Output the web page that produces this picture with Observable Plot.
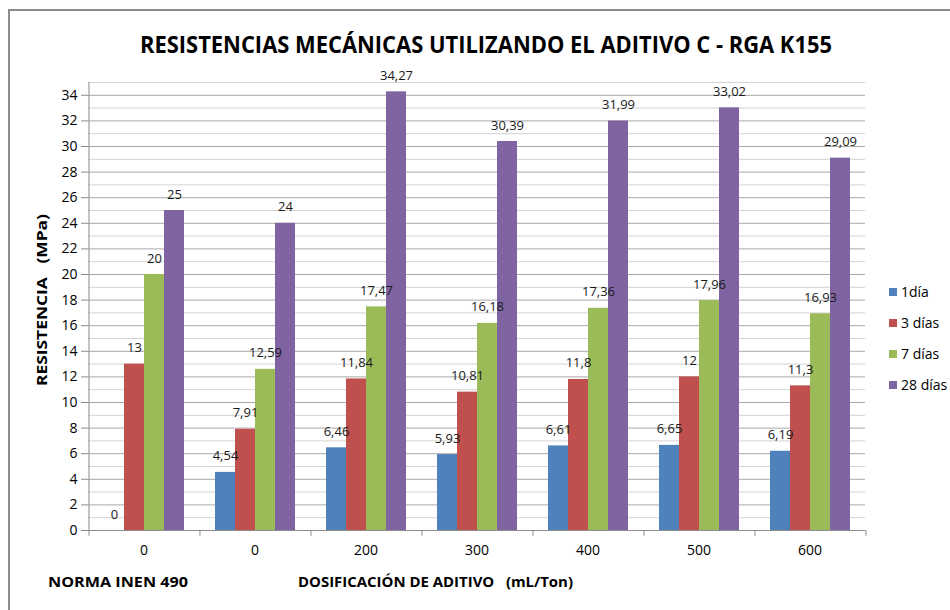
<!DOCTYPE html>
<html><head><meta charset="utf-8">
<script src="https://cdn.jsdelivr.net/npm/d3@7"></script>
<script src="https://cdn.jsdelivr.net/npm/@observablehq/plot@0.6"></script>
<style>
body{margin:0;background:#fff;}
#wrap{position:relative;width:950px;height:610px;overflow:hidden;font-family:"Open Sans",sans-serif;background:#fff;}
#border{position:absolute;left:8px;top:9px;width:1000px;height:700px;border-left:2px solid #8c8c8c;border-top:2px solid #8c8c8c;}
#chart{position:absolute;left:0;top:0;}
#overlay{position:absolute;left:0;top:0;}
</style></head><body>
<div id="wrap"><div id="border"></div><div id="chart"></div><svg id="overlay" width="950" height="610"></svg></div>
<script>
// ---- data ----
const groupKeys = ["g0","g1","g2","g3","g4","g5","g6"];
const groupLabels = ["0","0","200","300","400","500","600"];
const seriesNames = ["1día","3 días","7 días","28 días"];
const seriesColors = ["#4F81BD","#C0504D","#9BBB59","#8064A2"];
const dia1   = [0, 4.54, 6.46, 5.93, 6.61, 6.65, 6.19];
const dias3  = [13, 7.91, 11.84, 10.81, 11.8, 12, 11.3];
const dias7  = [20, 12.59, 17.47, 16.18, 17.36, 17.96, 16.93];
const dias28 = [25, 24, 34.27, 30.39, 31.99, 33.02, 29.09];
const yTicks = [0,2,4,6,8,10,12,14,16,18,20,22,24,26,28,30,32,34];
const yMax = 35;
const titleText = "RESISTENCIAS MECÁNICAS UTILIZANDO EL ADITIVO C - RGA K155";
const yTitle = "RESISTENCIA   (MPa)";
const xNote1 = "NORMA INEN 490";
const xNote2 = "DOSIFICACIÓN DE ADITIVO   (mL/Ton)";

const seriesValues = [dia1, dias3, dias7, dias28];
const rows = [];
groupKeys.forEach((k, gi) => seriesNames.forEach((s, si) => rows.push({k, s, v: seriesValues[si][gi]})));

// ---- layout ----
const W = 950, H = 610, mL = 87, mR = 85, mT = 82, mB = 80;
const po = 0.775;
const fStep = (W - mL - mR) / groupKeys.length;
const xStep = fStep / (seriesNames.length + 2 * po);
const edgeDx = -(po * xStep + xStep / 2);
const fmt = v => String(v).replace(".", ",");
const grid = d3.range(0, yMax + 1);

const chart = Plot.plot({
  width: W, height: H, marginLeft: mL, marginRight: mR, marginTop: mT, marginBottom: mB,
  style: {fontFamily: "'Open Sans', sans-serif", fontSize: "13px", color: "#000", background: "transparent", overflow: "visible"},
  fx: {domain: groupKeys, padding: 0, label: null},
  x: {domain: seriesNames, paddingInner: 0, paddingOuter: po, axis: null},
  y: {domain: [0, yMax], axis: null},
  color: {domain: seriesNames, range: seriesColors},
  marks: [
    Plot.ruleY(grid.filter(d => d % 2 === 1), {y: d => d, stroke: "#d3d3d3", strokeWidth: 1}),
    Plot.ruleY(grid.filter(d => d % 2 === 0 && d > 0), {y: d => d, stroke: "#a8a8a8", strokeWidth: 1}),
    Plot.barY(rows, {fx: "k", x: "s", y: "v", fill: "s"}),
    Plot.ruleY([0], {stroke: "#8c8c8c", strokeWidth: 1}),
    Plot.text(rows, {fx: "k", x: "s", y: "v", text: d => fmt(d.v), lineAnchor: "bottom", dy: -12, fontSize: 13, fill: "#1a1a1a"}),
    Plot.ruleX([groupKeys[0]], {fx: d => d, x: () => seriesNames[0], dx: edgeDx, y1: () => 0, y2: () => yMax, stroke: "#8c8c8c"}),
    Plot.ruleX(groupKeys, {fx: d => d, x: () => seriesNames[0], dx: edgeDx, y1: () => 0, y2: () => -0.45, stroke: "#8c8c8c"}),
    Plot.ruleX([groupKeys[groupKeys.length - 1]], {fx: d => d, x: () => seriesNames[seriesNames.length - 1], dx: -edgeDx, y1: () => 0, y2: () => -0.45, stroke: "#8c8c8c"}),
    Plot.axisY(yTicks, {tickSize: 7, tickPadding: 4, fontSize: 14, label: null, stroke: "#8c8c8c", fill: "#000"}),
    Plot.axisFx({tickSize: 0, tickPadding: 15, fontSize: 14, label: null, anchor: "bottom", tickFormat: k => groupLabels[groupKeys.indexOf(k)], fill: "#000"})
  ]
});
document.getElementById("chart").appendChild(chart);

// ---- title, axis notes, legend ----
const ov = d3.select("#overlay").style("font-family", "'Open Sans', sans-serif");
ov.append("text").attr("x", 140).attr("y", 53).attr("textLength", 692).attr("lengthAdjust", "spacingAndGlyphs")
  .attr("font-size", 24).attr("font-weight", "bold").attr("fill", "#000").text(titleText);
ov.append("text").attr("x", 48).attr("y", 587).attr("textLength", 140).attr("lengthAdjust", "spacingAndGlyphs")
  .attr("font-size", 15).attr("font-weight", "bold").attr("fill", "#000").text(xNote1);
ov.append("text").attr("x", 298).attr("y", 587).attr("textLength", 275).attr("lengthAdjust", "spacingAndGlyphs")
  .style("white-space", "pre")
  .attr("font-size", 15).attr("font-weight", "bold").attr("fill", "#000").text(xNote2);
ov.append("text").attr("transform", "translate(47,300) rotate(-90)").attr("text-anchor", "middle")
  .attr("textLength", 172).attr("lengthAdjust", "spacingAndGlyphs").style("white-space", "pre")
  .attr("font-size", 15).attr("font-weight", "bold").attr("fill", "#000").text(yTitle);
const leg = ov.append("g");
seriesNames.forEach((s, i) => {
  const cy = 292 + i * 31;
  leg.append("rect").attr("x", 889).attr("y", cy - 4).attr("width", 8).attr("height", 8).attr("fill", seriesColors[i]);
  leg.append("text").attr("x", 901).attr("y", cy).attr("dy", "0.35em").attr("font-size", 14).attr("fill", "#000").text(s);
});
</script>
</body></html>
